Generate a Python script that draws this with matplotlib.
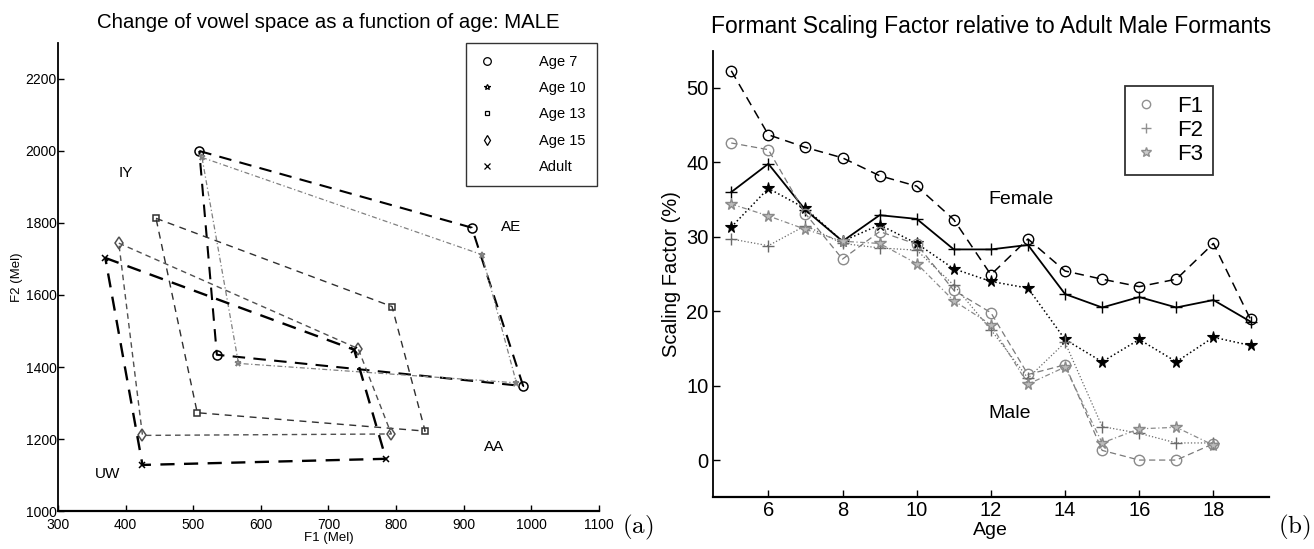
import numpy as np
import matplotlib
matplotlib.use("Agg")
import matplotlib.pyplot as plt
from matplotlib.lines import Line2D

plt.rcParams['font.family'] = ['Liberation Sans', 'DejaVu Sans']
plt.rcParams['mathtext.fontset'] = 'cm'

# ---- (a) vowel space, points ordered IY, AE, AA, UW ----
vowels = ["IY", "AE", "AA", "UW"]
age7_f1 = [509, 912, 988, 535]
age7_f2 = [2000, 1787, 1347, 1434]
age10_f1 = [513, 927, 978, 567]
age10_f2 = [1982, 1712, 1356, 1410]
age13_f1 = [445, 794, 843, 506]
age13_f2 = [1813, 1568, 1222, 1273]
age15_f1 = [390, 744, 793, 425]
age15_f2 = [1744, 1451, 1214, 1210]
adult_f1 = [370, 738, 785, 425]
adult_f2 = [1703, 1448, 1145, 1128]
group_labels = ["Age 7", "Age 10", "Age 13", "Age 15", "Adult"]
vowel_pos_f1 = [400, 970, 945, 374]
vowel_pos_f2 = [1940, 1790, 1178, 1102]

# ---- (b) scaling factor ----
ages = [5, 6, 7, 8, 9, 10, 11, 12, 13, 14, 15, 16, 17, 18, 19]
female_f1 = [52.3, 43.7, 42.0, 40.6, 38.2, 36.8, 32.3, 24.9, 29.7, 25.4, 24.3, 23.3, 24.3, 29.1, 18.9]
female_f2 = [36.0, 39.8, 33.6, 29.4, 32.9, 32.4, 28.3, 28.3, 28.9, 22.3, 20.5, 21.9, 20.5, 21.5, 18.6]
female_f3 = [31.3, 36.5, 33.8, 29.4, 31.6, 29.1, 25.7, 24.0, 23.1, 16.2, 13.2, 16.2, 13.2, 16.5, 15.4]
male_ages = [5, 6, 7, 8, 9, 10, 11, 12, 13, 14, 15, 16, 17, 18]
male_f1 = [42.6, 41.7, 33.1, 27.0, 30.7, 29.0, 22.8, 19.8, 11.5, 12.8, 1.3, 0.0, 0.0, 2.2]
male_f2 = [29.7, 28.8, 31.5, 29.1, 28.5, 28.2, 23.5, 17.5, 11.0, 15.8, 4.5, 3.6, 2.3, 2.3]
male_f3 = [34.4, 32.8, 31.0, 29.4, 29.1, 26.4, 21.4, 18.2, 10.2, 12.5, 2.3, 4.2, 4.4, 2.0]

fig = plt.figure(figsize=(13.14, 5.49), dpi=100)
ax1 = fig.add_axes([0.0441, 0.0692, 0.4117, 0.8525])
ax2 = fig.add_axes([0.5424, 0.0942, 0.4234, 0.8135])


def closed(v):
    return list(v) + [v[0]]


styles = [
    dict(color='black', lw=1.5, dashes=(6, 4), marker='o', ms=6.5),
    dict(color='#808080', lw=0.9, dashes=(4, 2, 1, 2), marker='*', ms=5),
    dict(color='#303030', lw=1.0, dashes=(5, 4), marker='s', ms=4.5),
    dict(color='#505050', lw=1.0, dashes=(4, 3), marker='d', ms=6),
    dict(color='black', lw=1.7, dashes=(6, 4), marker='x', ms=5),
]
groups = [(age7_f1, age7_f2), (age10_f1, age10_f2), (age13_f1, age13_f2),
          (age15_f1, age15_f2), (adult_f1, adult_f2)]

for (f1, f2), st in zip(groups, styles):
    ax1.plot(closed(f1), closed(f2), color=st['color'], lw=st['lw'], dashes=st['dashes'])
    ax1.plot(f1, f2, linestyle='none', marker=st['marker'], ms=st['ms'],
             mfc='none', mec=st['color'], mew=1.1)

for name, x, y in zip(vowels, vowel_pos_f1, vowel_pos_f2):
    ax1.text(x, y, name, fontsize=11, ha='center', va='center')

handles = [Line2D([], [], linestyle='none', marker=st['marker'], ms=st['ms'] - 1,
                  mfc='none', mec='black', mew=0.9) for st in styles]
leg = ax1.legend(handles, group_labels, loc='upper right', bbox_to_anchor=(0.997, 1.0),
                 borderaxespad=0, fontsize=10.5, handletextpad=3.0, labelspacing=0.85,
                 fancybox=False, edgecolor='black', borderpad=0.8, handlelength=1.2)
leg.get_frame().set_linewidth(1.0)

ax1.set_xlim(300, 1100)
ax1.set_ylim(1000, 2300)
ax1.set_xticks(np.arange(300, 1101, 100))
ax1.set_yticks(np.arange(1000, 2201, 200))
ax1.tick_params(labelsize=10, direction='in', length=4, width=1)
ax1.tick_params(axis='x', pad=5)
ax1.tick_params(axis='y', pad=1)
ax1.set_xlabel("F1 (Mel)", fontsize=9.5, labelpad=0)
ax1.set_ylabel("F2 (Mel)", fontsize=9.5, labelpad=2)
ax1.set_title("Change of vowel space as a function of age: MALE", fontsize=14.7, pad=11)
ax1.spines['top'].set_visible(False)
ax1.spines['right'].set_visible(False)
ax1.spines['left'].set_linewidth(1.3)
ax1.spines['bottom'].set_linewidth(1.6)

# right panel
ax2.plot(ages, female_f1, color='black', lw=1.1, dashes=(6, 4), marker='o', ms=7.5,
         mfc='none', mec='black')
ax2.plot(ages, female_f2, color='black', lw=1.3, linestyle='-', marker='+', ms=8, mew=1.0)
ax2.plot(ages, female_f3, color='black', lw=1.1, linestyle=':', marker='*', ms=8.5, mew=0.8)
ax2.plot(male_ages, male_f1, color='#7a7a7a', lw=0.9, dashes=(5, 3), marker='o', ms=7.5,
         mfc='none', mec='#8a8a8a')
ax2.plot(male_ages, male_f2, color='#6a6a6a', lw=0.9, linestyle=':', marker='+', ms=8,
         mec='#6a6a6a')
ax2.plot(male_ages, male_f3, color='#8a8a8a', lw=0.9, dashes=(4, 2, 1, 2), marker='*', ms=8.5,
         mec='#8a8a8a', mfc='#bbbbbb')

ax2.text(12.8, 35.0, "Female", fontsize=14, ha='center', va='center')
ax2.text(12.5, 6.2, "Male", fontsize=14, ha='center', va='center')

leg_handles = [
    Line2D([], [], linestyle='none', marker='o', ms=6, mfc='none', mec='#909090'),
    Line2D([], [], linestyle='none', marker='+', ms=7, mec='#909090'),
    Line2D([], [], linestyle='none', marker='*', ms=7, mec='#909090', mfc='#cccccc'),
]
leg2 = ax2.legend(leg_handles, ["F1", "F2", "F3"], loc='upper left',
                  bbox_to_anchor=(0.741, 0.922), borderaxespad=0, fontsize=16,
                  handletextpad=0.9, labelspacing=0.15, fancybox=False,
                  edgecolor='black', borderpad=0.45, handlelength=1.0)
leg2.get_frame().set_linewidth(1.3)

ax2.set_xlim(4.5, 19.5)
ax2.set_ylim(-5, 55)
ax2.set_xticks([6, 8, 10, 12, 14, 16, 18])
ax2.set_yticks([0, 10, 20, 30, 40, 50])
ax2.tick_params(labelsize=14.5, direction='in', length=5, width=1, pad=3)
ax2.set_xlabel("Age", fontsize=14, labelpad=1)
ax2.set_ylabel("Scaling Factor (%)", fontsize=14.5, labelpad=4)
ax2.set_title("Formant Scaling Factor relative to Adult Male Formants", fontsize=16.5, pad=13)
ax2.spines['top'].set_visible(False)
ax2.spines['right'].set_visible(False)
ax2.spines['left'].set_linewidth(1.3)
ax2.spines['bottom'].set_linewidth(1.6)

fig.text(0.485, 0.04, r'$\mathrm{(a)}$', fontsize=18, ha='center', va='center')
fig.text(0.985, 0.04, r'$\mathrm{(b)}$', fontsize=18, ha='center', va='center')

fig.savefig("out.png", dpi=100)
